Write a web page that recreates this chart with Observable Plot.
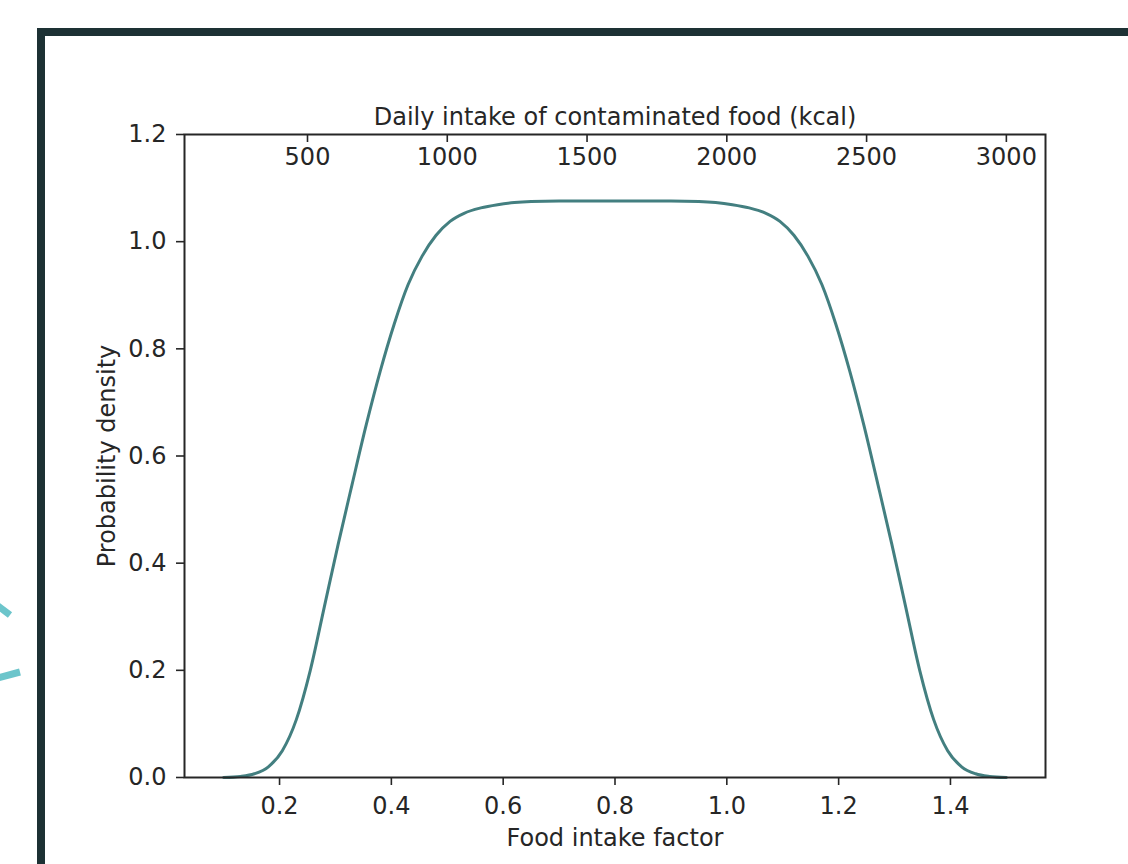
<!DOCTYPE html>
<html>
<head>
<meta charset="utf-8">
<script src="https://cdn.jsdelivr.net/npm/d3@7"></script>
<script src="https://cdn.jsdelivr.net/npm/@observablehq/plot@0.6"></script>
<style>
  html, body { margin: 0; padding: 0; background: #fff; }
  #wrap { position: relative; width: 1128px; height: 864px; overflow: hidden; background: #fff; }
  #chart { position: absolute; left: 0; top: 0; }
  .bar { position: absolute; background: #1d3134; z-index: 2; }
  #deco { position: absolute; left: 0; top: 0; z-index: 2; }
</style>
</head>
<body>
<div id="wrap">
  <div id="chart"></div>
  <div class="bar" style="left:37px; top:28px; width:1091px; height:8px;"></div>
  <div class="bar" style="left:37px; top:28px; width:8px; height:836px;"></div>
  <svg id="deco" width="60" height="864">
    <path d="M-2,606 L10,615" stroke="#6cc5cb" stroke-width="7" fill="none"/>
    <path d="M-2,678 L20,672" stroke="#6cc5cb" stroke-width="7" fill="none"/>
  </svg>
</div>
<script>
// Data
const factor = [0.10, 0.13, 0.155, 0.18, 0.205, 0.23, 0.255, 0.28, 0.305, 0.33, 0.355, 0.38,
  0.405, 0.43, 0.455, 0.48, 0.505, 0.53, 0.56, 0.59, 0.62, 0.65, 0.70, 0.80,
  0.90, 0.95, 0.98, 1.01, 1.04, 1.07, 1.095, 1.12, 1.145, 1.17, 1.195, 1.22,
  1.245, 1.27, 1.295, 1.32, 1.345, 1.37, 1.395, 1.42, 1.445, 1.47, 1.50];
const density = [0.000, 0.002, 0.007, 0.020, 0.050, 0.108, 0.200, 0.318, 0.436, 0.548, 0.658, 0.758,
  0.846, 0.920, 0.973, 1.012, 1.038, 1.053, 1.063, 1.069, 1.073, 1.075, 1.076, 1.076,
  1.076, 1.075, 1.073, 1.069, 1.063, 1.053, 1.038, 1.012, 0.973, 0.920, 0.846, 0.758,
  0.658, 0.548, 0.436, 0.318, 0.200, 0.108, 0.050, 0.020, 0.007, 0.002, 0.000];
const xTicks = [0.2, 0.4, 0.6, 0.8, 1.0, 1.2, 1.4];
const yTicks = [0.0, 0.2, 0.4, 0.6, 0.8, 1.0, 1.2];
const kcalTicks = [500, 1000, 1500, 2000, 2500, 3000];
const kcalPerFactor = 2000;
const xLabel = "Food intake factor";
const yLabel = "Probability density";
const topLabel = "Daily intake of contaminated food (kcal)";

const points = factor.map((f, i) => ({f, d: density[i]}));
const ink = "#262626";

const chart = Plot.plot({
  width: 1128,
  height: 864,
  marginLeft: 184,
  marginRight: 83,
  marginTop: 134,
  marginBottom: 87,
  style: {fontFamily: "DejaVu Sans, sans-serif", fontSize: "24px", color: ink, background: "transparent"},
  x: {domain: [0.03, 1.57], axis: null},
  y: {domain: [0, 1.2], axis: null},
  marks: [
    Plot.line(points, {x: "f", y: "d", stroke: "#437f80", strokeWidth: 3, curve: "monotone-x"}),
    Plot.frame({stroke: ink, strokeWidth: 2}),
    Plot.axisX({anchor: "bottom", ticks: xTicks, tickSize: 8, tickPadding: 11, tickFormat: d3.format(".1f"), label: null, stroke: ink, fill: ink, strokeWidth: 1.6}),
    Plot.axisY({anchor: "left", ticks: yTicks, tickSize: 8, tickPadding: 10, tickFormat: d3.format(".1f"), label: null, stroke: ink, fill: ink, strokeWidth: 1.6}),
    Plot.tickX(kcalTicks, {x: d => d / kcalPerFactor, insetBottom: 864 - 134 - 87 - 8, stroke: ink, strokeWidth: 1.6}),
    Plot.text(kcalTicks, {x: d => d / kcalPerFactor, text: d => String(d), frameAnchor: "top", lineAnchor: "middle", dy: 23, fill: ink}),
    Plot.text([topLabel], {frameAnchor: "top", lineAnchor: "middle", dy: -17, fill: ink}),
    Plot.text([xLabel], {frameAnchor: "bottom", lineAnchor: "middle", dy: 61, fill: ink}),
    Plot.text([yLabel], {frameAnchor: "left", lineAnchor: "middle", dx: -77, rotate: -90, textAnchor: "middle", fill: ink})
  ]
});
document.getElementById("chart").appendChild(chart);
</script>
</body>
</html>
